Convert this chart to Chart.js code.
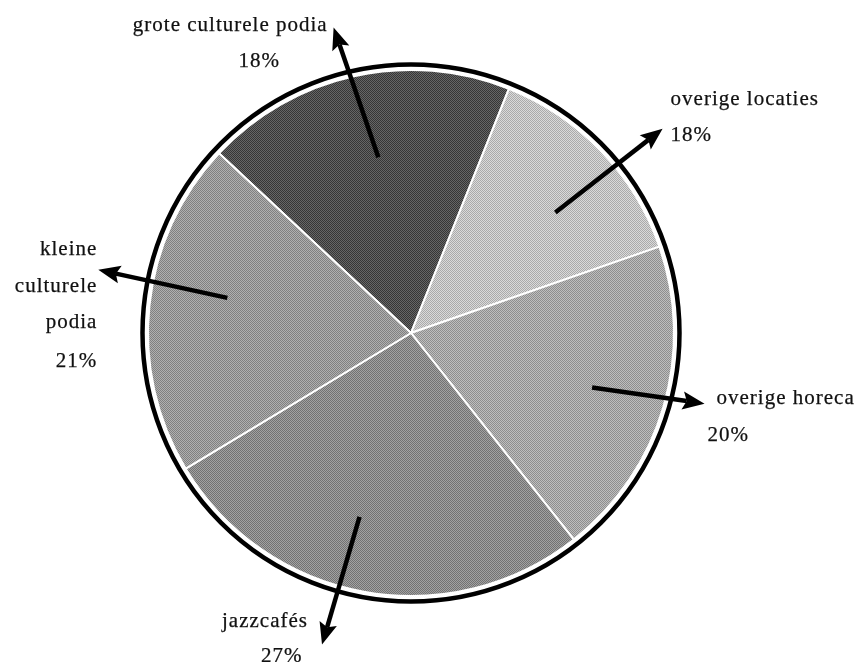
<!DOCTYPE html>
<html><head><meta charset="utf-8">
<script src="https://cdn.jsdelivr.net/npm/chart.js@4.4.1/dist/chart.umd.min.js"></script>
<style>html,body{margin:0;padding:0;background:#fff;overflow:hidden;} #wrap{width:861px;height:662px;}</style>
</head><body><div id="wrap"><canvas id="c" width="861" height="662"></canvas></div>
<script>
// ---- data ----
const categories = ['grote culturele podia', 'overige locaties', 'overige horeca', 'jazzcafés', 'kleine culturele podia'];
const sliceShares = [19.1, 13.6, 19.7, 27.0, 20.6];          // share of the circle as drawn
const printedPercentages = ['18%', '18%', '20%', '27%', '21%']; // percentages as printed
const labelLines = [['grote culturele podia'], ['overige locaties'], ['overige horeca'], ['jazzcafés'], ['kleine', 'culturele', 'podia']];
const sliceGreys = [78, 194, 166, 138, 152];

// ---- styles ----
function texture(g) {
  const c = document.createElement('canvas'); c.width = 2; c.height = 2;
  const x = c.getContext('2d');
  const hi = Math.min(255, g + 24), lo = Math.max(0, g - 24);
  x.fillStyle = `rgb(${hi},${hi},${hi})`; x.fillRect(0, 0, 2, 2);
  x.fillStyle = `rgb(${lo},${lo},${lo})`; x.fillRect(0, 0, 1, 1); x.fillRect(1, 1, 1, 1);
  return x.createPattern(c, 'repeat');
}

// callout layout: arrow angle offsets (deg, from slice middle), radii (x outer radius),
// and text line offsets relative to the arrow tip
const calloutLayout = [
  {a0: 2.0, r0: 0.68, a1: -1.7, r1: 1.198, lines: [{dx: -6, dy: 3, align: 'right'}, {dx: -95, dy: 39, align: 'left'}]},
  {a0: 3.8, r0: 0.715, a1: 4.6, r1: 1.232, lines: [{dx: 8, dy: -24, align: 'left'}, {dx: 8, dy: 12, align: 'left'}]},
  {a0: 0.45, r0: 0.719, a1: -2.75, r1: 1.148, lines: [{dx: 12, dy: 0, align: 'left'}, {dx: 3, dy: 37, align: 'left'}]},
  {a0: 5.3, r0: 0.726, a1: 5.6, r1: 1.232, lines: [{dx: -100, dy: -18, align: 'left'}, {dx: -61, dy: 17, align: 'left'}]},
  {a0: 4.8, r0: 0.711, a1: 5.4, r1: 1.213, lines: [{dx: -1, dy: -15, align: 'right'}, {dx: -1, dy: 22, align: 'right'}, {dx: -1, dy: 58, align: 'right'}, {dx: -1, dy: 97, align: 'right'}]}
];

const calloutPlugin = {
  id: 'callouts',
  afterDatasetsDraw(chart, args, opts) {
    const meta = chart.getDatasetMeta(0);
    const ctx = chart.ctx;
    const p0 = meta.data[0].getProps(['x', 'y', 'outerRadius'], true);
    const cx = p0.x, cy = p0.y, R = p0.outerRadius;
    ctx.save();
    // outer ring
    ctx.beginPath();
    ctx.arc(cx, cy, R + opts.ringGap, 0, Math.PI * 2);
    ctx.lineWidth = opts.ringWidth;
    ctx.strokeStyle = '#000';
    ctx.stroke();
    meta.data.forEach((arc, i) => {
      const p = arc.getProps(['startAngle', 'endAngle'], true);
      const mid = (p.startAngle + p.endAngle) / 2;
      const L = calloutLayout[i];
      const a0 = mid + L.a0 * Math.PI / 180, a1 = mid + L.a1 * Math.PI / 180;
      const sx = cx + Math.cos(a0) * R * L.r0, sy = cy + Math.sin(a0) * R * L.r0;
      const tx = cx + Math.cos(a1) * R * L.r1, ty = cy + Math.sin(a1) * R * L.r1;
      const dx = tx - sx, dy = ty - sy, len = Math.hypot(dx, dy);
      const ux = dx / len, uy = dy / len;
      const hl = 22, hw = 9;
      const bx = tx - ux * hl, by = ty - uy * hl;
      ctx.beginPath();
      ctx.moveTo(sx, sy); ctx.lineTo(bx + ux * 4, by + uy * 4);
      ctx.lineWidth = 4.5; ctx.lineCap = 'butt'; ctx.strokeStyle = '#000'; ctx.stroke();
      ctx.beginPath();
      ctx.moveTo(tx, ty);
      ctx.lineTo(bx - uy * hw, by + ux * hw);
      ctx.lineTo(bx + ux * 4, by + uy * 4);
      ctx.lineTo(bx + uy * hw, by - ux * hw);
      ctx.closePath(); ctx.fillStyle = '#000'; ctx.fill();
      // texts
      const texts = labelLines[i].concat([printedPercentages[i]]);
      ctx.font = opts.font;
      ctx.letterSpacing = opts.letterSpacing;
      ctx.fillStyle = '#111';
      ctx.strokeStyle = '#111';
      ctx.lineWidth = 0.25;
      ctx.textBaseline = 'alphabetic';
      texts.forEach((t, k) => {
        const ln = L.lines[k];
        ctx.textAlign = ln.align;
        ctx.fillText(t, tx + ln.dx, ty + ln.dy);
        ctx.strokeText(t, tx + ln.dx, ty + ln.dy);
      });
    });
    ctx.restore();
  }
};

new Chart(document.getElementById('c'), {
  type: 'pie',
  data: {
    labels: categories,
    datasets: [{
      data: sliceShares,
      backgroundColor: sliceGreys.map(texture),
      borderColor: '#ffffff',
      borderWidth: 2,
      radius: 263
    }]
  },
  options: {
    responsive: false,
    devicePixelRatio: 1,
    animation: false,
    rotation: -46.9,
    layout: {padding: {left: 0, right: 39, top: 4, bottom: 0}},
    plugins: {
      legend: {display: false},
      tooltip: {enabled: false},
      callouts: {ringGap: 5.5, ringWidth: 4.5, font: '21px "Liberation Serif"', letterSpacing: '1px'}
    },
    events: []
  },
  plugins: [calloutPlugin]
});
</script>
</body></html>
